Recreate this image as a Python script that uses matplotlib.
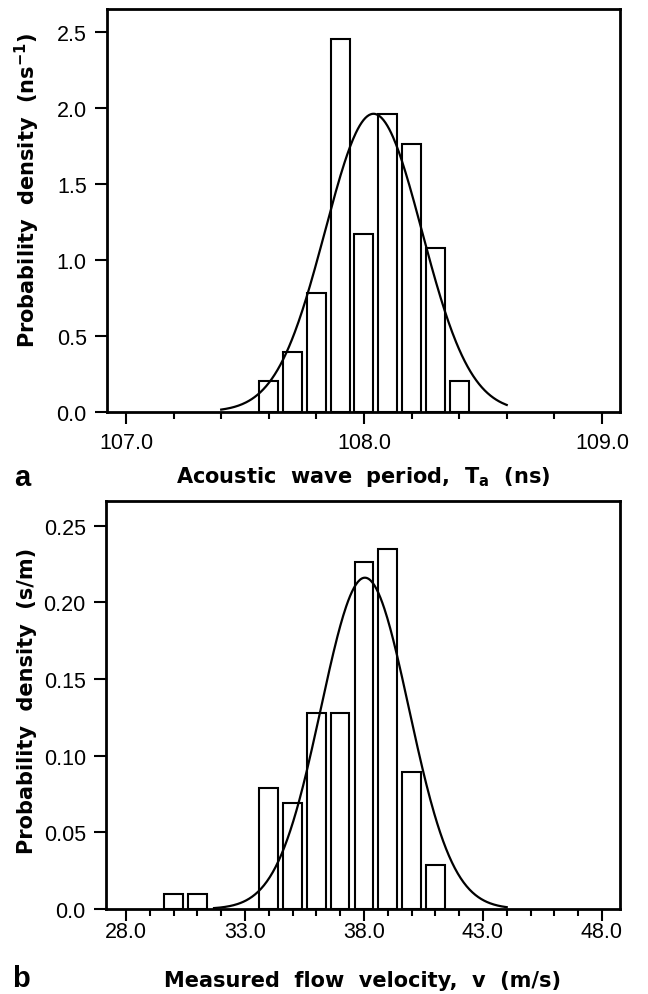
import numpy as np
import matplotlib
matplotlib.use("Agg")
import matplotlib.pyplot as plt
from matplotlib.ticker import MultipleLocator, FixedLocator, FormatStrFormatter, FuncFormatter

# ---- Panel a data ----
period_centers = [107.6, 107.7, 107.8, 107.9, 108.0, 108.1, 108.2, 108.3, 108.4]
period_density = [0.20, 0.39, 0.78, 2.45, 1.17, 1.96, 1.76, 1.08, 0.20]
period_fit_mean = 108.04
period_fit_sd = 0.2035
period_fit_range = (107.40, 108.60)
period_xticks = [107.0, 108.0, 109.0]

# ---- Panel b data ----
velocity_centers = [30, 31, 34, 35, 36, 37, 38, 39, 40, 41]
velocity_density = [0.010, 0.010, 0.079, 0.069, 0.128, 0.128, 0.226, 0.235, 0.089, 0.029]
velocity_fit_mean = 38.04
velocity_fit_sd = 1.847
velocity_fit_range = (31.7, 44.0)
velocity_xticks = [28.0, 33.0, 38.0, 43.0, 48.0]

plt.rcParams['font.family'] = ['DejaVu Sans']

W, H = 648, 995
fig = plt.figure(figsize=(W / 100, H / 100), dpi=100)


def px_axes(left, top, right, bottom):
    return fig.add_axes([left / W, 1 - bottom / H, (right - left) / W, (bottom - top) / H])


ax1 = px_axes(107, 10, 620, 412.7)
ax2 = px_axes(106, 502, 620, 910)


def normal(x, m, s):
    return np.exp(-0.5 * ((x - m) / s) ** 2) / (s * np.sqrt(2 * np.pi))


TICKFONT = dict(family='Liberation Sans', size=15.5)


def style(ax, xpad):
    for sp in ax.spines.values():
        sp.set_linewidth(2.0)
    ax.tick_params(axis='both', which='major', direction='out', length=8.5, width=1.5)
    ax.tick_params(axis='x', which='major', pad=xpad)
    ax.tick_params(axis='y', which='major', pad=6.0)
    ax.tick_params(axis='x', which='minor', direction='out', length=5, width=1.5)
    for lab in ax.get_xticklabels() + ax.get_yticklabels():
        lab.set_fontfamily(TICKFONT['family'])
        lab.set_fontsize(TICKFONT['size'])


LABELFONT = dict(fontsize=15, fontweight='bold')

# Panel a
ax1.bar(period_centers, period_density, width=0.08, facecolor='white',
        edgecolor='black', linewidth=1.5, zorder=2)
xa = np.linspace(*period_fit_range, 300)
ax1.plot(xa, normal(xa, period_fit_mean, period_fit_sd), color='black', lw=1.6, zorder=3)
ax1.set_xlim(106.92, 109.076)
ax1.set_ylim(0, 2.65)
ax1.xaxis.set_major_locator(FixedLocator(period_xticks))
ax1.xaxis.set_minor_locator(MultipleLocator(0.2))
ax1.yaxis.set_major_locator(MultipleLocator(0.5))
ax1.xaxis.set_major_formatter(FormatStrFormatter('%.1f'))
ax1.yaxis.set_major_formatter(FormatStrFormatter('%.1f'))
style(ax1, xpad=6)
ax1.set_xlabel(r'Acoustic  wave  period,  T$_\mathbf{a}$  (ns)', **LABELFONT)
ax1.xaxis.label.set_va('center')
ax1.xaxis.set_label_coords(0.5, (412.7 - 477) / 402.7)
ax1.set_ylabel(r'Probability  density  (ns$^\mathbf{-1}$)', **LABELFONT)
ax1.yaxis.label.set_va('center')
ax1.yaxis.set_label_coords((27 - 107) / 513, (412.7 - 191) / 402.7)

# Panel b
ax2.bar(velocity_centers, velocity_density, width=0.78, facecolor='white',
        edgecolor='black', linewidth=1.5, zorder=2)
xb = np.linspace(*velocity_fit_range, 300)
ax2.plot(xb, normal(xb, velocity_fit_mean, velocity_fit_sd), color='black', lw=1.6, zorder=3)
ax2.set_xlim(27.16, 48.76)
ax2.set_ylim(0, 0.266)
ax2.xaxis.set_major_locator(FixedLocator(velocity_xticks))
ax2.xaxis.set_minor_locator(MultipleLocator(1.0))
ax2.yaxis.set_major_locator(MultipleLocator(0.05))
ax2.xaxis.set_major_formatter(FormatStrFormatter('%.1f'))
ax2.yaxis.set_major_formatter(FuncFormatter(lambda v, p: '0.0' if abs(v) < 1e-9 else f'{v:.2f}'))
style(ax2, xpad=0.5)
ax2.set_xlabel('Measured  flow  velocity,  v  (m/s)', **LABELFONT)
ax2.xaxis.label.set_va('center')
ax2.xaxis.set_label_coords(0.5, (910 - 981) / 408)
ax2.set_ylabel('Probability  density  (s/m)', **LABELFONT)
ax2.yaxis.label.set_va('center')
ax2.yaxis.set_label_coords((27 - 106) / 514, (910 - 701) / 408)

fig.text(14 / W, 1 - 478 / H, 'a', fontsize=21, fontweight='bold', family='Liberation Sans',
         va='center', ha='left')
fig.text(12 / W, 1 - 979 / H, 'b', fontsize=21, fontweight='bold', family='Liberation Sans',
         va='center', ha='left')

fig.savefig('out.png', dpi=100)
